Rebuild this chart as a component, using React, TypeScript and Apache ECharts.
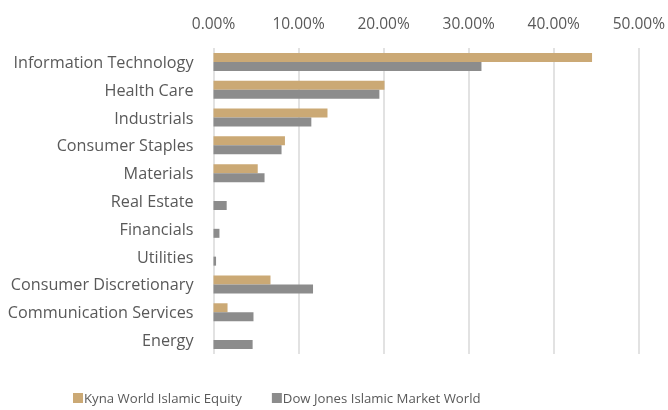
import React, { useEffect, useRef } from "react";
import * as echarts from "echarts";

const categories = [
  "Information Technology",
  "Health Care",
  "Industrials",
  "Consumer Staples",
  "Materials",
  "Real Estate",
  "Financials",
  "Utilities",
  "Consumer Discretionary",
  "Communication Services",
  "Energy",
];
const kyna = [44.5, 20.1, 13.4, 8.4, 5.2, 0, 0, 0, 6.7, 1.65, 0];
const dowJones = [31.5, 19.5, 11.5, 8.0, 6.0, 1.55, 0.7, 0.3, 11.7, 4.7, 4.6];
const seriesNames = ["Kyna World Islamic Equity", "Dow Jones Islamic Market World"];

export default function App() {
  const ref = useRef<HTMLDivElement>(null);
  useEffect(() => {
    if (!ref.current) return;
    const chart = echarts.init(ref.current, null, { renderer: "svg" });
    const font = "'Open Sans', sans-serif";
    chart.setOption({
      animation: false,
      textStyle: { fontFamily: font },
      grid: { left: 213.5, right: 29, top: 48, bottom: 56, containLabel: false },
      legend: {
        bottom: 4,
        left: 73,
        padding: 0,
        itemWidth: 10,
        itemHeight: 10,
        itemGap: 30,
        icon: "rect",
        textStyle: {
          color: "#595959",
          fontSize: 13.2,
          lineHeight: 16,
          fontFamily: font,
          padding: [0, 0, 0, -4],
        },
        data: seriesNames,
      },
      xAxis: {
        type: "value",
        position: "top",
        min: 0,
        max: 50,
        interval: 10,
        axisLine: { show: false },
        axisTick: { show: false },
        axisLabel: {
          color: "#595959",
          fontSize: 15.5,
          margin: 17,
          formatter: (v: number) => v.toFixed(2) + "%",
        },
        splitLine: { show: true, lineStyle: { color: "#d9d9d9", width: 1.5 } },
      },
      yAxis: {
        type: "category",
        data: categories,
        inverse: true,
        axisLine: { show: false },
        axisTick: { show: false },
        axisLabel: { color: "#595959", fontSize: 16.2, margin: 20 },
      },
      series: [
        {
          name: seriesNames[0],
          type: "bar",
          data: kyna,
          barWidth: 9,
          barGap: "0%",
          itemStyle: { color: "#CBA975" },
        },
        {
          name: seriesNames[1],
          type: "bar",
          data: dowJones,
          barWidth: 9,
          barGap: "0%",
          itemStyle: { color: "#8C8C8C" },
        },
      ],
    });
    return () => chart.dispose();
  }, []);
  return (
    <div
      ref={ref}
      style={{ position: "fixed", left: 0, top: 0, width: 668, height: 410 }}
    />
  );
}
